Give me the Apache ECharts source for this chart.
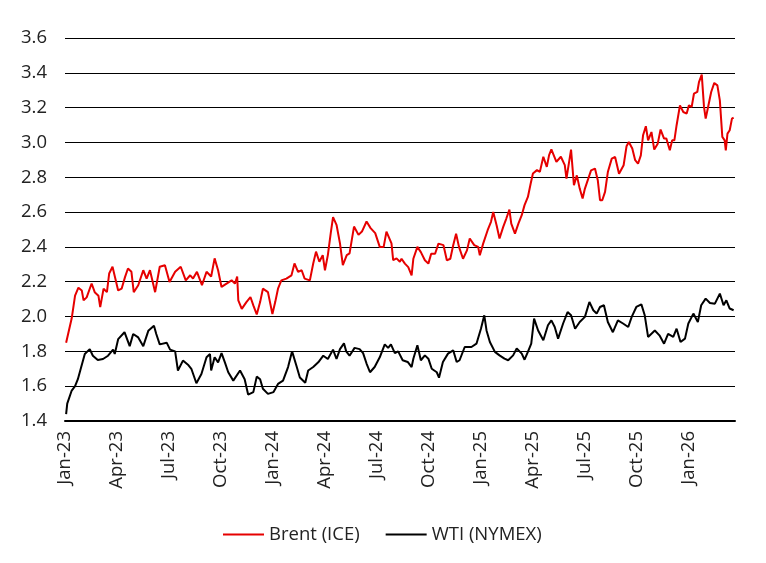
<!DOCTYPE html>
<html>
<head>
<meta charset="utf-8">
<script src="https://cdn.jsdelivr.net/npm/echarts@6/dist/echarts.min.js"></script>
<style>
html,body{margin:0;padding:0;background:#fff;}
#chart{width:766px;height:563px;}
</style>
</head>
<body>
<div id="chart"></div>
<script>
// Tick labels for quarter starts (one every 3 months from Jan-23)
const tickLabels = ['Jan-23','Apr-23','Jul-23','Oct-23','Jan-24','Apr-24','Jul-24','Oct-24','Jan-25','Apr-25','Jul-25','Oct-25','Jan-26'];
const seriesNames = ['Brent (ICE)', 'WTI (NYMEX)'];

const brentDates = ['2023-01-03','2023-01-13','2023-01-19','2023-01-25','2023-01-31','2023-02-03','2023-02-08','2023-02-16','2023-02-21','2023-02-27','2023-03-02','2023-03-08','2023-03-14','2023-03-18','2023-03-24','2023-03-29','2023-04-03','2023-04-09','2023-04-15','2023-04-20','2023-04-26','2023-04-30','2023-05-08','2023-05-17','2023-05-23','2023-05-29','2023-06-07','2023-06-15','2023-06-24','2023-07-02','2023-07-12','2023-07-22','2023-07-31','2023-08-08','2023-08-13','2023-08-20','2023-08-29','2023-09-06','2023-09-14','2023-09-20','2023-09-26','2023-10-02','2023-10-11','2023-10-20','2023-10-26','2023-10-30','2023-11-01','2023-11-07','2023-11-15','2023-11-22','2023-11-27','2023-12-03','2023-12-09','2023-12-14','2023-12-23','2023-12-31','2024-01-05','2024-01-10','2024-01-16','2024-01-25','2024-02-03','2024-02-08','2024-02-14','2024-02-20','2024-02-25','2024-03-05','2024-03-11','2024-03-16','2024-03-22','2024-03-28','2024-04-01','2024-04-06','2024-04-11','2024-04-15','2024-04-21','2024-04-27','2024-05-02','2024-05-09','2024-05-14','2024-05-18','2024-05-22','2024-05-30','2024-06-05','2024-06-13','2024-06-20','2024-06-28','2024-07-06','2024-07-13','2024-07-18','2024-07-27','2024-07-30','2024-08-05','2024-08-11','2024-08-14','2024-08-20','2024-08-26','2024-09-01','2024-09-04','2024-09-11','2024-09-17','2024-09-24','2024-09-30','2024-10-05','2024-10-12','2024-10-18','2024-10-27','2024-11-02','2024-11-08','2024-11-13','2024-11-18','2024-11-23','2024-11-30','2024-12-07','2024-12-12','2024-12-20','2024-12-27','2024-12-30','2025-01-05','2025-01-13','2025-01-19','2025-01-23','2025-01-29','2025-02-03','2025-02-09','2025-02-14','2025-02-19','2025-02-22','2025-02-28','2025-03-06','2025-03-12','2025-03-17','2025-03-23','2025-03-28','2025-04-01','2025-04-08','2025-04-13','2025-04-19','2025-04-25','2025-04-29','2025-05-03','2025-05-12','2025-05-20','2025-05-27','2025-05-30','2025-06-07','2025-06-12','2025-06-17','2025-06-22','2025-06-27','2025-07-01','2025-07-07','2025-07-12','2025-07-19','2025-07-24','2025-07-28','2025-08-01','2025-08-06','2025-08-11','2025-08-18','2025-08-24','2025-08-31','2025-09-08','2025-09-13','2025-09-17','2025-09-23','2025-09-28','2025-10-03','2025-10-08','2025-10-12','2025-10-17','2025-10-21','2025-10-27','2025-11-01','2025-11-07','2025-11-12','2025-11-18','2025-11-22','2025-11-28','2025-12-02','2025-12-06','2025-12-10','2025-12-16','2025-12-22','2025-12-28','2026-01-01','2026-01-06','2026-01-10','2026-01-16','2026-01-19','2026-01-24','2026-01-28','2026-01-31','2026-02-04','2026-02-09','2026-02-14','2026-02-19','2026-02-23','2026-02-27','2026-03-03','2026-03-05','2026-03-08','2026-03-12','2026-03-16','2026-03-19'];
const brentValues = [1.85,1.99,2.12,2.166,2.15,2.093,2.11,2.19,2.14,2.12,2.054,2.16,2.14,2.247,2.286,2.218,2.15,2.16,2.228,2.276,2.257,2.14,2.18,2.266,2.218,2.266,2.14,2.286,2.295,2.199,2.257,2.286,2.208,2.237,2.218,2.257,2.18,2.257,2.23,2.334,2.266,2.17,2.189,2.208,2.189,2.23,2.093,2.044,2.083,2.112,2.064,2.012,2.083,2.16,2.14,2.015,2.083,2.16,2.208,2.218,2.237,2.305,2.257,2.266,2.218,2.208,2.305,2.373,2.315,2.353,2.266,2.353,2.479,2.571,2.527,2.42,2.295,2.353,2.363,2.44,2.517,2.469,2.488,2.546,2.508,2.479,2.40,2.40,2.488,2.42,2.324,2.334,2.315,2.332,2.304,2.284,2.236,2.332,2.40,2.37,2.323,2.304,2.361,2.361,2.419,2.41,2.323,2.332,2.41,2.476,2.40,2.332,2.38,2.448,2.41,2.40,2.352,2.419,2.496,2.544,2.60,2.524,2.448,2.515,2.563,2.614,2.534,2.476,2.534,2.582,2.64,2.687,2.764,2.822,2.841,2.831,2.918,2.86,2.927,2.96,2.889,2.918,2.87,2.792,2.959,2.754,2.811,2.735,2.678,2.735,2.792,2.84,2.85,2.783,2.668,2.668,2.716,2.83,2.907,2.917,2.82,2.869,2.978,3.003,2.965,2.898,2.878,2.926,3.041,3.093,3.012,3.06,2.959,2.993,3.074,3.022,3.022,2.955,3.012,3.012,3.099,3.213,3.175,3.166,3.213,3.204,3.28,3.29,3.347,3.39,3.204,3.137,3.204,3.29,3.342,3.328,3.242,3.032,3.012,2.955,3.051,3.07,3.137,3.143];

const wtiDates = ['2023-01-03','2023-01-05','2023-01-13','2023-01-19','2023-01-24','2023-01-30','2023-02-05','2023-02-13','2023-02-18','2023-02-26','2023-03-07','2023-03-16','2023-03-25','2023-03-28','2023-04-03','2023-04-14','2023-04-23','2023-04-29','2023-05-08','2023-05-17','2023-05-26','2023-06-05','2023-06-09','2023-06-15','2023-06-27','2023-07-03','2023-07-12','2023-07-17','2023-07-26','2023-08-05','2023-08-10','2023-08-19','2023-08-28','2023-09-06','2023-09-12','2023-09-14','2023-09-20','2023-09-26','2023-10-02','2023-10-08','2023-10-14','2023-10-23','2023-11-04','2023-11-12','2023-11-18','2023-11-27','2023-12-03','2023-12-09','2023-12-14','2023-12-23','2024-01-02','2024-01-10','2024-01-19','2024-01-28','2024-02-04','2024-02-11','2024-02-17','2024-02-26','2024-03-02','2024-03-11','2024-03-20','2024-03-29','2024-04-06','2024-04-15','2024-04-21','2024-04-27','2024-05-04','2024-05-08','2024-05-14','2024-05-23','2024-06-01','2024-06-07','2024-06-13','2024-06-19','2024-06-27','2024-07-06','2024-07-15','2024-07-21','2024-07-26','2024-08-02','2024-08-08','2024-08-16','2024-08-25','2024-09-01','2024-09-04','2024-09-11','2024-09-17','2024-09-24','2024-09-30','2024-10-06','2024-10-15','2024-10-19','2024-10-26','2024-11-04','2024-11-13','2024-11-19','2024-11-24','2024-12-03','2024-12-15','2024-12-24','2025-01-01','2025-01-07','2025-01-11','2025-01-17','2025-01-26','2025-02-03','2025-02-11','2025-02-17','2025-02-25','2025-03-03','2025-03-12','2025-03-17','2025-03-23','2025-03-29','2025-04-03','2025-04-10','2025-04-19','2025-04-27','2025-05-03','2025-05-09','2025-05-15','2025-05-24','2025-06-01','2025-06-07','2025-06-14','2025-06-22','2025-07-01','2025-07-09','2025-07-16','2025-07-22','2025-07-28','2025-08-04','2025-08-11','2025-08-20','2025-08-29','2025-09-07','2025-09-16','2025-09-22','2025-09-30','2025-10-09','2025-10-15','2025-10-21','2025-11-02','2025-11-10','2025-11-18','2025-11-25','2025-12-04','2025-12-10','2025-12-17','2025-12-25','2025-12-31','2026-01-09','2026-01-17','2026-01-23','2026-01-31','2026-02-07','2026-02-15','2026-02-23','2026-03-01','2026-03-06','2026-03-12','2026-03-19'];
const wtiValues = [1.44,1.50,1.575,1.60,1.64,1.71,1.785,1.813,1.775,1.75,1.756,1.775,1.81,1.785,1.87,1.91,1.83,1.90,1.88,1.83,1.918,1.947,1.90,1.84,1.85,1.81,1.80,1.69,1.747,1.72,1.70,1.617,1.67,1.766,1.785,1.69,1.766,1.737,1.79,1.737,1.68,1.632,1.69,1.64,1.552,1.566,1.655,1.64,1.585,1.556,1.566,1.613,1.632,1.71,1.80,1.72,1.65,1.62,1.69,1.71,1.737,1.775,1.756,1.81,1.756,1.813,1.846,1.80,1.775,1.82,1.813,1.79,1.73,1.68,1.71,1.766,1.84,1.82,1.84,1.79,1.80,1.749,1.739,1.71,1.758,1.835,1.749,1.777,1.758,1.70,1.68,1.649,1.739,1.787,1.806,1.739,1.749,1.825,1.825,1.844,1.93,2.007,1.92,1.854,1.797,1.777,1.758,1.749,1.777,1.816,1.787,1.752,1.797,1.844,1.988,1.92,1.864,1.95,1.978,1.94,1.873,1.96,2.026,2.007,1.93,1.969,1.998,2.084,2.036,2.017,2.055,2.065,1.969,1.91,1.978,1.96,1.94,1.998,2.055,2.07,2.007,1.883,1.92,1.892,1.844,1.90,1.883,1.93,1.854,1.873,1.96,2.017,1.969,2.065,2.103,2.078,2.074,2.132,2.065,2.093,2.046,2.036];

// Convert a date string to a fractional month index counted from Jan 2023
function monthIndex(s) {
  const [y, m, d] = s.split('-').map(Number);
  const dim = new Date(y, m, 0).getDate();
  return (y - 2023) * 12 + (m - 1) + (d - 1) / dim;
}
function pairs(dates, vals) { return dates.map((d, i) => [monthIndex(d), vals[i]]); }

const fontFam = '"Open Sans", "Noto Sans", sans-serif';
const txtColor = '#222';
const chart = echarts.init(document.getElementById('chart'), null, {renderer: 'canvas'});
chart.setOption({
  animation: false,
  backgroundColor: '#fff',
  grid: {left: 65, right: 31, top: 38, bottom: 142, containLabel: false},
  legend: {
    data: seriesNames,
    left: 218, top: 520,
    icon: 'rect', itemWidth: 41, itemHeight: 2, itemGap: 26,
    textStyle: {fontFamily: fontFam, fontSize: 18.5, color: txtColor}
  },
  xAxis: {
    type: 'value', min: 0, max: 38.66, interval: 3,
    axisLine: {show: true, lineStyle: {color: '#000', width: 2}},
    axisTick: {show: false},
    splitLine: {show: false},
    axisLabel: {
      rotate: 90, margin: 10, showMaxLabel: false,
      fontFamily: fontFam, fontSize: 18.5, color: txtColor,
      formatter: function (v) {
        const i = Math.round(v / 3);
        return (Math.abs(v - i * 3) < 1e-6 && tickLabels[i]) ? tickLabels[i] : '';
      }
    }
  },
  yAxis: {
    type: 'value', min: 1.4, max: 3.6, interval: 0.2,
    axisLine: {show: false}, axisTick: {show: false},
    splitLine: {show: true, lineStyle: {color: '#000', width: 1}},
    axisLabel: {
      margin: 18, fontFamily: fontFam, fontSize: 18.5, color: txtColor,
      formatter: v => v.toFixed(1)
    }
  },
  series: [
    {name: seriesNames[0], type: 'line', data: pairs(brentDates, brentValues),
     showSymbol: false, symbol: 'none', lineStyle: {color: '#e60000', width: 2}, itemStyle: {color: '#e60000'}},
    {name: seriesNames[1], type: 'line', data: pairs(wtiDates, wtiValues),
     showSymbol: false, symbol: 'none', lineStyle: {color: '#000', width: 2}, itemStyle: {color: '#000'}}
  ]
});
</script>
</body>
</html>
